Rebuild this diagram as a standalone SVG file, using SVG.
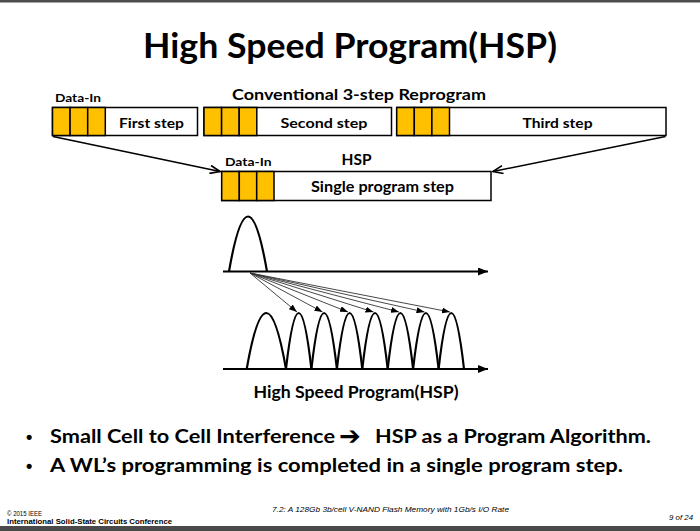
<svg xmlns="http://www.w3.org/2000/svg" width="700" height="531" viewBox="0 0 700 531">
<defs>
<style>
.t{font-family:Lato,"Open Sans","Liberation Sans",sans-serif;font-weight:bold;fill:#000}
.b{font-family:"Liberation Sans",Arial,sans-serif;font-weight:bold;fill:#000}
.box{fill:#fff;stroke:#000;stroke-width:1.5}
.cell{fill:#FFC000;stroke:#000;stroke-width:1.5}
.hump{fill:none;stroke:#000;stroke-width:2.2}
.axis{fill:none;stroke:#000;stroke-width:2}
.big{fill:none;stroke:#000;stroke-width:1.6}
.thin{fill:none;stroke:#333;stroke-width:0.9}
.f{font-family:"Liberation Sans",Arial,sans-serif;fill:#000}
</style>
<marker id="openArr" viewBox="0 0 12 10" refX="11" refY="5" markerWidth="12" markerHeight="10" markerUnits="userSpaceOnUse" orient="auto">
<path d="M1,1 L11,5 L1,9" fill="none" stroke="#000" stroke-width="1.6"/>
</marker>
<marker id="axArr" viewBox="0 0 10 8" refX="10" refY="4" markerWidth="10" markerHeight="8" markerUnits="userSpaceOnUse" orient="auto">
<path d="M0,0 L10,4 L0,8 Z" fill="#000"/>
</marker>
<marker id="smArr" viewBox="0 0 8 6" refX="8" refY="3" markerWidth="8" markerHeight="6" markerUnits="userSpaceOnUse" orient="auto">
<path d="M0,0 L8,3 L0,6 Z" fill="#000"/>
</marker>
</defs>
<rect x="0" y="0" width="700" height="531" fill="#fff"/>
<rect x="0" y="0" width="700" height="2.5" fill="#4d4d4d"/>
<rect x="0" y="526" width="700" height="5" fill="#4a4a4a"/>

<text class="t" x="350" y="58" font-size="34" text-anchor="middle" textLength="414" lengthAdjust="spacingAndGlyphs">High Speed Program(HSP)</text>

<g id="label-conventional"><text class="t" x="359" y="99.5" font-size="15.5" text-anchor="middle" textLength="254" lengthAdjust="spacingAndGlyphs">Conventional 3-step Reprogram</text></g>
<g id="label-datain1"><text class="t" x="55" y="101.5" font-size="12" textLength="46" lengthAdjust="spacingAndGlyphs">Data-In</text></g>

<g id="step1">
<rect class="box" x="52.5" y="107.5" width="145" height="28"/>
<rect class="cell" x="52.5" y="107.5" width="17.6" height="28"/>
<rect class="cell" x="70.1" y="107.5" width="17.6" height="28"/>
<rect class="cell" x="87.7" y="107.5" width="17.6" height="28"/>
<text class="t" x="151.5" y="127.5" font-size="14" text-anchor="middle" textLength="65" lengthAdjust="spacingAndGlyphs">First step</text>
</g>
<g id="step2">
<rect class="box" x="204" y="107.5" width="187.5" height="28"/>
<rect class="cell" x="204" y="107.5" width="17.6" height="28"/>
<rect class="cell" x="221.6" y="107.5" width="17.6" height="28"/>
<rect class="cell" x="239.2" y="107.5" width="17.6" height="28"/>
<text class="t" x="324" y="127.5" font-size="14" text-anchor="middle" textLength="87" lengthAdjust="spacingAndGlyphs">Second step</text>
</g>
<g id="step3">
<rect class="box" x="396.7" y="107.5" width="269.3" height="28"/>
<rect class="cell" x="396.7" y="107.5" width="17.6" height="28"/>
<rect class="cell" x="414.3" y="107.5" width="17.6" height="28"/>
<rect class="cell" x="431.9" y="107.5" width="17.6" height="28"/>
<text class="t" x="557.5" y="127.5" font-size="14" text-anchor="middle" textLength="70" lengthAdjust="spacingAndGlyphs">Third step</text>
</g>

<g id="hsp">
<text class="t" x="225" y="166" font-size="12" textLength="46.5" lengthAdjust="spacingAndGlyphs">Data-In</text>
<text class="t" x="356.5" y="165" font-size="16" text-anchor="middle" textLength="30" lengthAdjust="spacingAndGlyphs">HSP</text>
<rect class="box" x="221.7" y="171.5" width="269.3" height="29"/>
<rect class="cell" x="221.7" y="171.5" width="17.6" height="29"/>
<rect class="cell" x="239.3" y="171.5" width="17.4" height="29"/>
<rect class="cell" x="256.7" y="171.5" width="17.3" height="29"/>
<text class="t" x="382.5" y="192" font-size="15" text-anchor="middle" textLength="143" lengthAdjust="spacingAndGlyphs">Single program step</text>
</g>

<g id="connectors">
<line class="big" x1="53" y1="136.5" x2="220" y2="171.5" marker-end="url(#openArr)"/>
<line class="big" x1="665.5" y1="136.5" x2="493" y2="171.5" marker-end="url(#openArr)"/>
<line class="axis" x1="223" y1="271.5" x2="488" y2="271.5" marker-end="url(#axArr)"/>
<line class="axis" x1="223" y1="369" x2="488" y2="369" marker-end="url(#axArr)"/>
<g>
<line class="thin" x1="250" y1="273" x2="297" y2="312" marker-end="url(#smArr)"/>
<line class="thin" x1="250" y1="273" x2="322.5" y2="312" marker-end="url(#smArr)"/>
<line class="thin" x1="250" y1="273" x2="348" y2="312" marker-end="url(#smArr)"/>
<line class="thin" x1="250" y1="273" x2="373.5" y2="312" marker-end="url(#smArr)"/>
<line class="thin" x1="250" y1="273" x2="399" y2="312" marker-end="url(#smArr)"/>
<line class="thin" x1="250" y1="273" x2="424.5" y2="312" marker-end="url(#smArr)"/>
<line class="thin" x1="250" y1="273" x2="450" y2="312" marker-end="url(#smArr)"/>
</g>
</g>

<g id="dist-initial">
<path class="hump" d="M229,271.5 Q248,161.5 267,271.5"/>
</g>
<g id="dist-programmed">
<path class="hump" d="M246.7,369 Q266.3,257 286,369"/>
<path class="hump" d="M286,369 Q298.7,257 311.4,369"/>
<path class="hump" d="M311.4,369 Q324.1,257 336.9,369"/>
<path class="hump" d="M336.9,369 Q349.6,257 362.3,369"/>
<path class="hump" d="M362.3,369 Q375,257 387.7,369"/>
<path class="hump" d="M387.7,369 Q400.4,257 413.1,369"/>
<path class="hump" d="M413.1,369 Q425.9,257 438.6,369"/>
<path class="hump" d="M438.6,369 Q451.3,257 464,369"/>
</g>

<g id="caption"><text class="t" x="356" y="397.5" font-size="17.5" text-anchor="middle" textLength="205" lengthAdjust="spacingAndGlyphs">High Speed Program(HSP)</text></g>

<g id="bullets">
<text class="b" x="26" y="443" font-size="18">•</text>
<text class="t" x="50" y="443" font-size="19"><tspan textLength="285" lengthAdjust="spacingAndGlyphs">Small Cell to Cell Interference</tspan><tspan x="339" y="445" font-family="'DejaVu Sans',sans-serif" font-size="26">➔</tspan><tspan x="375" y="443" textLength="276" lengthAdjust="spacingAndGlyphs">HSP as a Program Algorithm.</tspan></text>
<text class="b" x="26" y="471.5" font-size="18">•</text>
<text class="t" x="50" y="471.5" font-size="19" textLength="573" lengthAdjust="spacingAndGlyphs">A WL’s programming is completed in a single program step.</text>
</g>

<g id="footer">
<text class="f" x="7" y="516" font-size="7" textLength="35" lengthAdjust="spacingAndGlyphs">© 2015 IEEE</text>
<text class="f" x="7" y="523.5" font-size="7.5" font-weight="bold" textLength="165" lengthAdjust="spacingAndGlyphs">International Solid-State Circuits Conference</text>
<text class="f" x="272" y="512" font-size="7.5" font-style="italic" textLength="237" lengthAdjust="spacingAndGlyphs">7.2: A 128Gb 3b/cell V-NAND Flash Memory with 1Gb/s I/O Rate</text>
<text class="f" x="669" y="520" font-size="7.5" font-style="italic" textLength="24" lengthAdjust="spacingAndGlyphs">9 of 24</text>
</g>
</svg>
